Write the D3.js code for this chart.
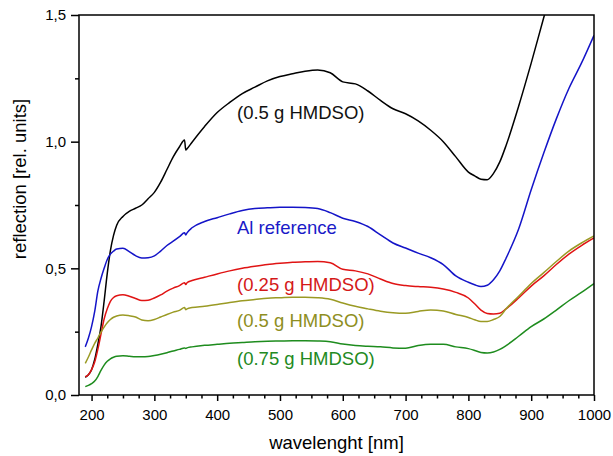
<!DOCTYPE html>
<html>
<head>
<meta charset="utf-8">
<script src="https://cdn.jsdelivr.net/npm/d3@7"></script>
<style>
  html, body { margin: 0; padding: 0; background: #fff; }
  svg { display: block; font-family: "Liberation Sans", Arial, sans-serif; }
</style>
</head>
<body>
<svg id="chart" width="613" height="456"></svg>
<script>
const wavelengths = [190,195,200,205,210,215,220,225,230,235,240,250,260,270,280,290,300,310,320,330,340,348,350,352,360,380,400,420,440,460,480,500,520,540,560,580,600,620,640,660,680,700,720,740,760,780,800,810,820,830,840,850,860,880,900,920,940,960,980,1000];

const black = [0.07,0.08,0.10,0.14,0.20,0.27,0.37,0.48,0.57,0.63,0.67,0.705,0.725,0.737,0.75,0.775,0.80,0.84,0.89,0.94,0.98,1.007,0.967,0.972,0.998,1.06,1.115,1.155,1.19,1.215,1.24,1.257,1.268,1.278,1.283,1.272,1.236,1.228,1.20,1.163,1.13,1.11,1.082,1.045,1.0,0.94,0.88,0.865,0.852,0.85,0.875,0.92,0.985,1.14,1.31,1.49,1.66,null,null,null];

const alRef = [0.19,0.225,0.27,0.33,0.41,0.46,0.50,0.535,0.556,0.568,0.576,0.579,0.566,0.55,0.541,0.542,0.549,0.568,0.59,0.607,0.625,0.64,0.632,0.64,0.66,0.685,0.70,0.715,0.728,0.736,0.739,0.741,0.741,0.74,0.736,0.72,0.698,0.685,0.665,0.632,0.60,0.58,0.56,0.542,0.515,0.47,0.445,0.435,0.428,0.433,0.455,0.49,0.54,0.655,0.81,0.955,1.09,1.21,1.31,1.42];

const hmdso025 = [0.072,0.08,0.10,0.13,0.18,0.24,0.30,0.34,0.37,0.385,0.392,0.396,0.39,0.381,0.373,0.374,0.383,0.395,0.41,0.422,0.432,0.443,0.436,0.443,0.452,0.465,0.478,0.49,0.50,0.508,0.515,0.52,0.524,0.526,0.527,0.522,0.496,0.49,0.478,0.458,0.44,0.432,0.428,0.425,0.418,0.405,0.383,0.36,0.335,0.322,0.32,0.323,0.34,0.383,0.43,0.47,0.515,0.556,0.59,0.62];

const hmdso05 = [0.125,0.15,0.178,0.204,0.225,0.248,0.268,0.285,0.298,0.307,0.312,0.316,0.313,0.308,0.296,0.293,0.298,0.308,0.318,0.327,0.334,0.345,0.337,0.34,0.345,0.35,0.357,0.365,0.372,0.377,0.382,0.384,0.386,0.386,0.384,0.378,0.363,0.35,0.34,0.331,0.325,0.323,0.33,0.336,0.332,0.318,0.306,0.297,0.29,0.29,0.298,0.31,0.34,0.39,0.44,0.483,0.527,0.568,0.60,0.628];

const hmdso075 = [0.033,0.038,0.045,0.055,0.073,0.097,0.118,0.133,0.143,0.149,0.153,0.155,0.153,0.151,0.151,0.152,0.156,0.161,0.167,0.174,0.18,0.186,0.184,0.186,0.19,0.196,0.2,0.204,0.207,0.21,0.212,0.213,0.214,0.214,0.213,0.21,0.201,0.195,0.192,0.19,0.186,0.185,0.195,0.2,0.2,0.19,0.183,0.176,0.168,0.166,0.17,0.18,0.195,0.232,0.27,0.30,0.335,0.372,0.405,0.44];

const seriesNames = ["(0.5 g HMDSO)", "Al reference", "(0.25 g HMDSO)", "(0.5 g HMDSO)", "(0.75 g HMDSO)"];
const seriesValues = [black, alRef, hmdso025, hmdso05, hmdso075];
const seriesColors = ["#000000", "#1414c8", "#e01414", "#9a9a24", "#1e8c1e"];
const labelColors = ["#111111", "#1a1ac8", "#d41818", "#8e8e22", "#228a22"];
const labelY = [1.09, 0.637, 0.41, 0.27, 0.12];
const labelX = 237;

const xMajorTicks = [200,300,400,500,600,700,800,900,1000];
const yMajorTicks = [0.0,0.5,1.0,1.5];

const svg = d3.select("#chart");
const L = 79, R = 594, T = 15, B = 395;

const x = d3.scaleLinear().domain([180, 1000]).range([L, R]);
const y = d3.scaleLinear().domain([0, 1.5]).range([B, T]);

svg.append("clipPath").attr("id", "plotclip")
  .append("rect").attr("x", L).attr("y", T).attr("width", R - L).attr("height", B - T);

const line = d3.line()
  .defined(d => d[1] != null)
  .x(d => x(d[0]))
  .y(d => y(d[1]))
  .curve(d3.curveMonotoneX);

const g = svg.append("g").attr("clip-path", "url(#plotclip)");
seriesValues.forEach((vals, i) => {
  const pts = wavelengths.map((w, j) => [w, vals[j]]);
  g.append("path")
    .attr("d", line(pts))
    .attr("fill", "none")
    .attr("stroke", seriesColors[i])
    .attr("stroke-width", 1.5)
    .attr("stroke-linejoin", "round");
});

// Labels
seriesNames.forEach((name, i) => {
  svg.append("text")
    .attr("x", labelX)
    .attr("y", y(labelY[i]))
    .attr("fill", labelColors[i])
    .attr("font-size", 18.5)
    .text(name);
});

// Axes
const fmt = v => d3.format(".1f")(v).replace(".", ",");

const xMinor = d3.range(225, 1000, 25).filter(v => v % 100 !== 0);
const xAxisMajor = d3.axisBottom(x).tickValues(xMajorTicks).tickSize(6).tickPadding(8).tickFormat(d3.format("d"));
const xAxisMinor = d3.axisBottom(x).tickValues(xMinor).tickSize(3.5).tickFormat("");
const yMinor = [0.25, 0.75, 1.25];
const yAxisMajor = d3.axisLeft(y).tickValues(yMajorTicks).tickSize(8).tickPadding(5).tickFormat(fmt);
const yAxisMinor = d3.axisLeft(y).tickValues(yMinor).tickSize(4).tickFormat("");

function styleAxis(sel) {
  sel.select(".domain").remove();
  sel.selectAll("line").attr("stroke", "#000").attr("stroke-width", 1.5);
  sel.selectAll("text").attr("font-size", 15).attr("fill", "#000")
     .attr("font-family", "'Liberation Sans', Arial, sans-serif");
}

svg.append("g").attr("transform", `translate(0,${B})`).call(xAxisMinor).call(styleAxis);
svg.append("g").attr("transform", `translate(0,${B})`).call(xAxisMajor).call(styleAxis);
svg.append("g").attr("transform", `translate(${L},0)`).call(yAxisMinor).call(styleAxis);
svg.append("g").attr("transform", `translate(${L},0)`).call(yAxisMajor).call(styleAxis);

// Frame
svg.append("rect").attr("x", L).attr("y", T).attr("width", R - L).attr("height", B - T)
  .attr("fill", "none").attr("stroke", "#000").attr("stroke-width", 1.5);

// Axis titles
svg.append("text")
  .attr("x", (L + R) / 2).attr("y", 449)
  .attr("text-anchor", "middle").attr("font-size", 18.5).attr("fill", "#000")
  .text("wavelenght [nm]");

svg.append("text")
  .attr("transform", "translate(26,179) rotate(-90)")
  .attr("text-anchor", "middle").attr("font-size", 18.5).attr("fill", "#000")
  .text("reflection [rel. units]");
</script>
</body>
</html>
